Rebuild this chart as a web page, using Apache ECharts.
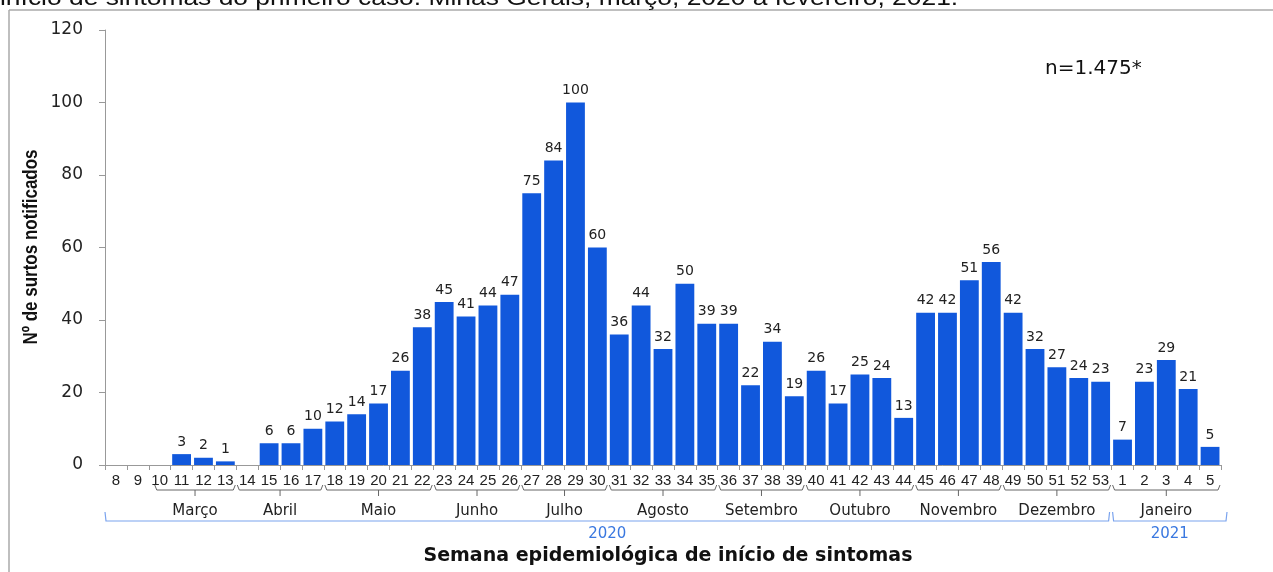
<!DOCTYPE html>
<html>
<head>
<meta charset="utf-8">
<script src="https://cdn.jsdelivr.net/npm/echarts@6/dist/echarts.min.js"></script>
<style>
  html, body { margin: 0; padding: 0; background: #fff; }
  #main { width: 1273px; height: 572px; }
</style>
</head>
<body>
<div id="main"></div>
<script>
// semanas epidemiologicas (2020: 8..53, 2021: 1..5)
var weeks = ['8','9','10','11','12','13','14','15','16','17','18','19','20','21','22','23','24','25','26','27','28','29','30',
  '31','32','33','34','35','36','37','38','39','40','41','42','43','44','45','46','47','48','49','50','51','52','53',
  '1','2','3','4','5'];
var surtos = [0,0,0,3,2,1,0,6,6,10,12,14,17,26,38,45,41,44,47,75,84,100,60,
  36,44,32,50,39,39,22,34,19,26,17,25,24,13,42,42,51,56,42,32,27,24,23,
  7,23,29,21,5];
var yTicks = [0, 20, 40, 60, 80, 100, 120];

// meses: nome, indice da primeira e da ultima semana
var months = ['Março','Abril','Maio','Junho','Julho','Agosto','Setembro','Outubro','Novembro','Dezembro','Janeiro'];
var monthFirst = [2, 6, 10, 15, 19, 23, 28, 32, 37, 41, 46];
var monthLast = [5, 9, 14, 18, 22, 27, 31, 36, 40, 45, 50];
var years = ['2020', '2021'];
var yearFirst = [0, 46];
var yearLast = [45, 50];

var myChart = echarts.init(document.getElementById('main'));

var font = "'Liberation Sans', Arial, sans-serif";
var wide = "'DejaVu Sans', sans-serif";

var option = {
  animation: false,
  grid: { left: 105, right: 52, top: 30, bottom: 107, outerBoundsMode: 'none', containLabel: false },
  xAxis: {
    type: 'category',
    data: weeks,
    axisLine: { lineStyle: { color: '#999', width: 1 } },
    axisTick: { show: true, length: 5, lineStyle: { color: '#999' } },
    axisLabel: { interval: 0, fontFamily: font, fontSize: 15, color: '#222', margin: 8 }
  },
  yAxis: {
    type: 'value',
    min: 0,
    max: yTicks[yTicks.length - 1],
    interval: 20,
    axisLine: { show: true, lineStyle: { color: '#999' } },
    axisTick: { show: true, length: 6, lineStyle: { color: '#999' } },
    splitLine: { show: false },
    axisLabel: { fontFamily: wide, fontSize: 17, color: '#222', margin: 22 }
  },
  series: [{
    type: 'bar',
    data: surtos,
    barCategoryGap: '14%',
    itemStyle: { color: '#1158DC' },
    label: {
      show: true,
      position: 'top',
      distance: 5,
      fontFamily: wide,
      fontSize: 14,
      color: '#222',
      formatter: function (p) { return p.value ? p.value : ''; }
    }
  }]
};

myChart.setOption(option);

// molduras, chaves de meses/anos e textos
function px(i) { return myChart.convertToPixel({ xAxisIndex: 0 }, i); }
var bw = px(1) - px(0);
var g = [];

g.push({ type: 'line', shape: { x1: 9, y1: 10, x2: 1273, y2: 10 }, style: { stroke: '#aaa', lineWidth: 1.5 } });
g.push({ type: 'line', shape: { x1: 9, y1: 10, x2: 9, y2: 572 }, style: { stroke: '#aaa', lineWidth: 1.5 } });
g.push({ type: 'text', x: 0, y: 10, scaleX: 1.2, style: {
  text: 'início de sintomas do primeiro caso. Minas Gerais, março, 2020 a fevereiro, 2021.',
  font: '22px ' + font, fill: '#111', verticalAlign: 'bottom' } });
g.push({ type: 'text', left: 1045, top: 59, style: { text: 'n=1.475*', font: '20px ' + wide, fill: '#111' } });

// titulos dos eixos
g.push({ type: 'text', x: 668, y: 556, style: { text: 'Semana epidemiológica de início de sintomas',
  font: 'bold 19px ' + wide, fill: '#111', align: 'center', verticalAlign: 'middle' } });
g.push({ type: 'text', x: 31, y: 247, rotation: Math.PI / 2, scaleX: 0.85, style: { text: 'Nº de surtos notificados',
  font: 'bold 20px ' + font, fill: '#111', align: 'center', verticalAlign: 'middle' } });

var my = 490;
for (var m = 0; m < months.length; m++) {
  var x1 = px(monthFirst[m]) - bw / 2 + (m === 0 ? 6 : 1);
  var x2 = px(monthLast[m]) + bw / 2 - 1;
  var xc = (x1 + x2) / 2;
  g.push({ type: 'polyline', shape: { points: [[x1, my - 5], [x1 + 2, my], [x2 - 2, my], [x2, my - 5]] },
    style: { stroke: '#666', lineWidth: 1, fill: null } });
  g.push({ type: 'line', shape: { x1: xc, y1: my, x2: xc, y2: my + 6 }, style: { stroke: '#666', lineWidth: 1 } });
  g.push({ type: 'text', x: xc, y: 511, style: { text: months[m], font: '15px ' + wide, fill: '#222',
    align: 'center', verticalAlign: 'middle' } });
}

var yy = 521;
for (var k = 0; k < years.length; k++) {
  var a = px(yearFirst[k]) - bw / 2 + (k === 0 ? 0 : 1);
  var b = px(yearLast[k]) + bw / 2 + (k === 0 ? -2 : 6);
  g.push({ type: 'polyline', shape: { points: [[a, yy - 9], [a + 1, yy], [b - 1, yy], [b, yy - 9]] },
    style: { stroke: '#7aa3ee', lineWidth: 1.2, fill: null } });
  g.push({ type: 'text', x: (a + b) / 2, y: 534, style: { text: years[k], font: '15px ' + wide, fill: '#3a78e0',
    align: 'center', verticalAlign: 'middle' } });
}

myChart.setOption({ graphic: g });
</script>
</body>
</html>
